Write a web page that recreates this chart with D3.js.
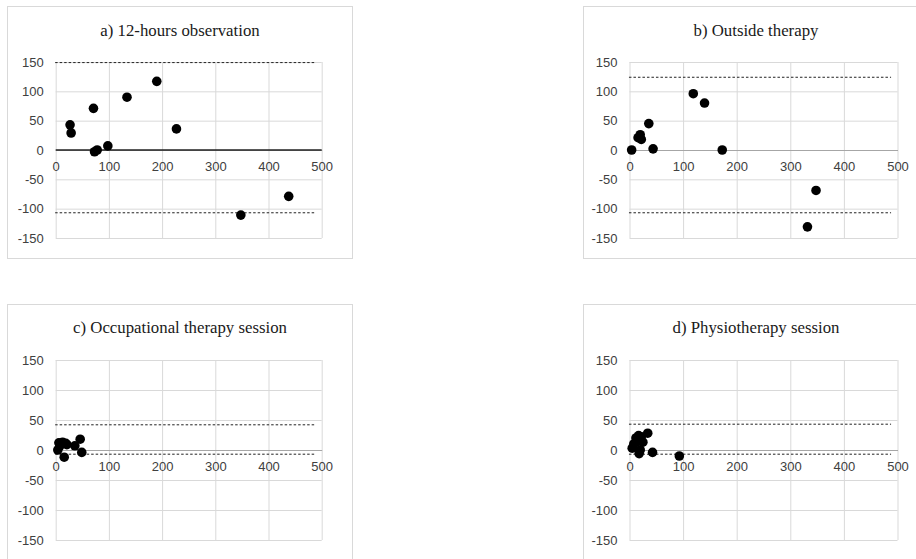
<!DOCTYPE html>
<html>
<head>
<meta charset="utf-8">
<script src="https://cdn.jsdelivr.net/npm/d3@7"></script>
<style>
  body { margin: 0; background: #fff; }
  svg { display: block; }
</style>
</head>
<body>
<div id="container"></div>
<script>
// values: x = mean, y = difference
let titles = ["a) 12-hours observation", "b) Outside therapy", "c) Occupational therapy session", "d) Physiotherapy session"];
let xTicks = [0, 100, 200, 300, 400, 500];
let yTicks = [-150, -100, -50, 0, 50, 100, 150];

let aX = [27, 29, 71, 73, 78, 98, 134, 190, 227, 348, 438];
let aY = [43, 29, 71, -3, 0, 7, 90, 117, 36, -111, -79];
let bX = [4, 16, 20, 22, 36, 44, 119, 140, 173, 332, 348];
let bY = [0, 21, 26, 18, 45, 2, 96, 80, 0, -131, -69];
let cX = [4, 6, 8, 13, 16, 19, 21, 36, 46, 49];
let cY = [0, 12, 7, 13, -12, 11, 9, 7, 18, -4];
let dX = [5, 8, 12, 15, 17, 18, 20, 22, 25, 34, 43, 93];
let dY = [3, 10, 20, 14, 24, -6, 0, 22, 13, 28, -4, -10];

// limits of agreement (upper, lower) and mean line (null = none)
let upperLimits = [149, 124, 42, 43];
let lowerLimits = [-107, -107, -7, -7];
let meanLines = [0, null, null, null];

let W = 916, H = 559;
let svg = d3.select("#container").append("svg")
  .attr("width", W)
  .attr("height", H);

// panel frames
let frames = [
  {x: 7, y: 6, w: 345, h: 252, plotH: 176},
  {x: 583, y: 6, w: 345, h: 252, plotH: 176},
  {x: 7, y: 304, w: 345, h: 262, plotH: 180},
  {x: 583, y: 304, w: 345, h: 262, plotH: 180}
];
let xs = [aX, bX, cX, dX];
let ys = [aY, bY, cY, dY];

frames.forEach(function(f, i){
  let g = svg.append("g").attr("transform", "translate(" + f.x + "," + f.y + ")");

  g.append("rect")
    .attr("x", 0.5).attr("y", 0.5)
    .attr("width", f.w).attr("height", f.h)
    .attr("fill", "white")
    .attr("stroke", "#d9d9d9");

  g.append("text")
    .attr("x", f.w / 2 + 0.5)
    .attr("y", i < 2 ? 30 : 29)
    .attr("text-anchor", "middle")
    .style("font-family", "'Liberation Serif', 'Times New Roman', serif")
    .style("font-size", "16.8px")
    .attr("fill", "#1a1a1a")
    .text(titles[i]);

  let left = i % 2 == 0 ? 48.7 : 46.5;
  let right = left + (i % 2 == 0 ? 266 : 268);
  let top = 56;
  let bottom = top + f.plotH;

  let x = d3.scaleLinear().domain([0, 500]).range([left, right]);
  let y = d3.scaleLinear().domain([-150, 150]).range([bottom, top]);

  // horizontal grid + y labels
  let yAxis = g.append("g")
    .attr("transform", "translate(" + left + ",0)")
    .call(d3.axisLeft(y).tickValues(yTicks).tickSize(-(right - left)).tickPadding(12).tickFormat(d => String(d)));
  yAxis.select(".domain").remove();
  yAxis.selectAll("line").attr("stroke", "#d9d9d9");

  // vertical grid
  let xGrid = g.append("g")
    .attr("transform", "translate(0," + bottom + ")")
    .call(d3.axisBottom(x).tickValues(xTicks).tickSize(-(bottom - top)).tickFormat(""));
  xGrid.select(".domain").remove();
  xGrid.selectAll("line").attr("stroke", "#d9d9d9");

  // x axis sits on zero
  let xAxis = g.append("g")
    .attr("transform", "translate(0," + y(0) + ")")
    .call(d3.axisBottom(x).tickValues(xTicks).tickSize(0).tickPadding(12).tickFormat(d => String(d)));
  xAxis.select(".domain").attr("stroke", "#a6a6a6");

  g.selectAll(".tick text")
    .style("font-family", "'Liberation Sans', Arial, sans-serif")
    .style("font-size", "13px")
    .attr("fill", "#404040");

  if (meanLines[i] != null) {
    g.append("line")
      .attr("x1", x(0)).attr("x2", x(500))
      .attr("y1", y(meanLines[i])).attr("y2", y(meanLines[i]))
      .attr("stroke", "#222")
      .attr("stroke-width", 1.6);
  }

  [upperLimits[i], lowerLimits[i]].forEach(function(v){
    g.append("line")
      .attr("x1", x(-1)).attr("x2", x(488))
      .attr("y1", y(v)).attr("y2", y(v))
      .attr("stroke", "#222")
      .attr("stroke-width", 1)
      .attr("stroke-dasharray", "2.5,2");
  });

  let pts = xs[i].map(function(d, k){ return {x: d, y: ys[i][k]}; });
  g.selectAll(".dot").data(pts).enter().append("circle")
    .attr("class", "dot")
    .attr("cx", d => x(d.x))
    .attr("cy", d => y(d.y))
    .attr("r", 4.8)
    .attr("fill", "black");
});
</script>
</body>
</html>
